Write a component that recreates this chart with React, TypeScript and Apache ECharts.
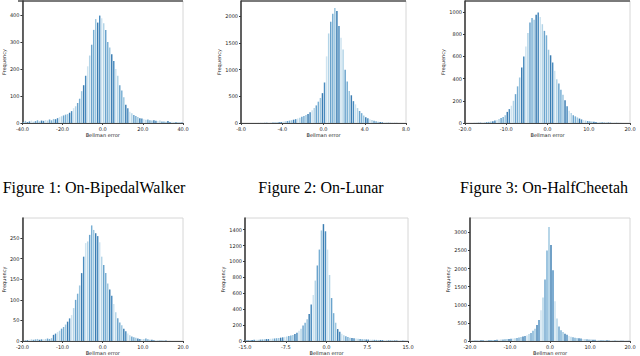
import React, { useEffect, useRef } from "react";
import * as echarts from "echarts";

// ---- data ----
const captions = ["Figure 1: On-BipedalWalker", "Figure 2: On-Lunar", "Figure 3: On-HalfCheetah"];
const xAxisTitle = "Bellman error";
const yAxisTitle = "Frequency";

// histogram bin start and bin width per panel
const binStarts = [-40, -8, -20, -20, -15, -20];
const binWidths = [1, 0.2, 0.5, 0.5, 0.375, 0.5];

// x axis ranges / tick intervals
const xMins = [-40, -8, -20, -20, -15, -20];
const xMaxs = [40, 8, 20, 20, 15, 20];
const xIntervals = [20, 4, 10, 10, 7.5, 10];

// y axis tick intervals
const yIntervals = [100, 500, 200, 50, 200, 500];

const bipedalCounts = [
  4, 8, 3, 6, 9, 5, 7, 10, 6, 9,
  8, 11, 9, 13, 10, 15, 14, 18, 22, 25,
  28, 31, 33, 38, 44, 55, 62, 74, 90, 118,
  140, 175, 210, 250, 290, 345, 385, 372, 398, 388,
  370, 345, 300, 280, 255, 230, 200, 175, 140, 120,
  95, 68, 55, 42, 36, 30, 26, 22, 18, 17,
  14, 12, 13, 10, 9, 10, 8, 7, 9, 6,
  6, 5, 7, 4, 5, 3, 4, 2, 3, 2,
];

const lunarCounts = [
  0, 0, 0, 0, 0, 0, 1, 0, 1, 2,
  2, 3, 4, 5, 6, 8, 10, 13, 16, 20,
  26, 32, 38, 45, 52, 62, 72, 85, 98, 115,
  130, 150, 170, 200, 240, 280, 330, 400, 470, 560,
  760, 1250, 1680, 1900, 2050, 2160, 2100, 1820, 1600, 1380,
  1000, 780, 600, 520, 410, 350, 280, 225, 185, 140,
  110, 90, 70, 55, 42, 32, 25, 18, 14, 10,
  8, 6, 4, 3, 2, 2, 1, 1, 0, 0,
];

const cheetahCounts = [
  0, 0, 0, 1, 1, 2, 2, 3, 4, 6,
  8, 10, 14, 16, 22, 28, 35, 45, 55, 70,
  100, 125, 155, 200, 260, 330, 410, 500, 600, 690,
  810, 905, 945, 930, 975, 995, 955, 890, 830, 790,
  660, 610, 545, 470, 395, 355, 300, 255, 205, 150,
  110, 90, 70, 60, 50, 40, 32, 26, 22, 18,
  16, 14, 12, 10, 9, 8, 6, 5, 4, 4,
  3, 3, 2, 2, 1, 1, 1, 0, 0, 0,
];

const panel4Counts = [
  0, 1, 2, 3, 4, 3, 4, 5, 3, 4,
  4, 5, 6, 5, 7, 15, 18, 22, 25, 30,
  34, 40, 47, 55, 63, 80, 100, 115, 135, 165,
  205, 238, 242, 258, 281, 270, 262, 255, 240, 205,
  185, 165, 140, 125, 110, 90, 70, 55, 45, 38,
  30, 24, 18, 14, 11, 9, 8, 6, 5, 5,
  5, 6, 4, 3, 3, 2, 2, 2, 1, 1,
  1, 1, 0, 1, 0, 0, 0, 0, 0, 0,
];

const panel5Counts = [
  10, 12, 14, 13, 15, 17, 16, 18, 20, 22,
  24, 25, 28, 30, 32, 35, 38, 42, 46, 52,
  56, 62, 68, 75, 88, 105, 130, 155, 195, 230,
  275, 340, 460, 580, 760, 950, 1150, 1390, 1470, 1380,
  1150, 830, 540, 350, 230, 150, 115, 90, 72, 60,
  50, 42, 38, 34, 30, 27, 25, 23, 21, 20,
  18, 17, 16, 15, 14, 13, 12, 11, 10, 10,
  9, 8, 8, 7, 6, 6, 5, 5, 4, 4,
];

const panel6Counts = [
  10, 12, 14, 15, 16, 18, 20, 22, 24, 26,
  28, 30, 31, 33, 36, 38, 42, 46, 52, 58,
  62, 70, 78, 86, 95, 108, 125, 140, 160, 190,
  220, 280, 340, 440, 580, 850, 1200, 1700, 2500, 3150,
  2650, 1950, 1100, 620, 400, 300, 250, 200, 170, 140,
  120, 105, 92, 83, 75, 66, 58, 52, 46, 42,
  38, 35, 32, 29, 26, 24, 22, 20, 18, 16,
  14, 12, 11, 10, 9, 8, 7, 6, 5, 4,
];

const allCounts = [bipedalCounts, lunarCounts, cheetahCounts, panel4Counts, panel5Counts, panel6Counts];

// ---- layout / style ----
const grids = [
  { left: 18, top: 1, width: 165, height: 122 },
  { left: 241, top: 1, width: 165, height: 122 },
  { left: 465, top: 1, width: 165, height: 122 },
  { left: 18, top: 218, width: 165, height: 123 },
  { left: 245, top: 218, width: 163, height: 123 },
  { left: 470, top: 218, width: 160, height: 123 },
];
const yMaxs = [452, 2289, 1099, 299, 1547, 3395];
const yNameGaps = [12.5, 16.5, 16, 11.5, 17, 17];
const barColors = ["#78afd4", "#b3d4e7", "#4a8cbf", "#9cc6df", "#6aa3cc", "#cfe4f0", "#3b7db2"];
const captionX = [94, 321, 544];

export default function App() {
  const ref = useRef<HTMLDivElement>(null);

  useEffect(() => {
    if (!ref.current) return;
    const chart = echarts.init(ref.current, undefined, { renderer: "svg" });

    const grid = grids.map((g) => ({
      ...g,
      show: true,
      borderColor: "#d6d6d6",
      borderWidth: 1,
      backgroundColor: "transparent",
    }));

    const xAxis = grids.map((_, k) => ({
      type: "value",
      gridIndex: k,
      min: xMins[k],
      max: xMaxs[k],
      interval: xIntervals[k],
      name: xAxisTitle,
      nameLocation: "middle",
      nameGap: k < 3 ? 9.5 : 9,
      nameTextStyle: { fontSize: 5, color: "#222", fontFamily: "DejaVu Sans" },
      axisLine: { show: true, onZero: false, lineStyle: { color: "#444", width: 1 } },
      axisTick: { show: true, length: 2, lineStyle: { color: "#444" } },
      axisLabel: {
        fontSize: 5,
        color: "#222",
        margin: 3,
        fontFamily: "DejaVu Sans",
        formatter: (v: number) => v.toFixed(1),
      },
      splitLine: { show: false },
    }));

    const yAxis = grids.map((_, k) => ({
      type: "value",
      gridIndex: k,
      min: 0,
      max: yMaxs[k],
      interval: yIntervals[k],
      name: yAxisTitle,
      nameLocation: "middle",
      nameRotate: 90,
      nameGap: yNameGaps[k],
      nameTextStyle: { fontSize: 5, color: "#222", fontFamily: "DejaVu Sans" },
      axisLine: { show: true, onZero: false, lineStyle: { color: "#333", width: 1.5 } },
      axisTick: { show: true, length: 2, lineStyle: { color: "#333" } },
      axisLabel: {
        fontSize: 5,
        color: "#222",
        margin: 3,
        showMaxLabel: false,
        fontFamily: "DejaVu Sans",
        formatter: (v: number) => String(Math.round(v)),
      },
      splitLine: { show: false },
    }));

    const series = allCounts.map((counts, k) => ({
      type: "bar",
      xAxisIndex: k,
      yAxisIndex: k,
      barWidth: "72%",
      data: counts.map((c, i) => [binStarts[k] + binWidths[k] * (i + 0.5), c]),
      itemStyle: {
        color: (p: any) => barColors[(p.dataIndex * 3 + k) % barColors.length],
      },
    }));

    const graphic: any[] = captions.map((t, i) => ({
      type: "text",
      x: captionX[i],
      y: 187,
      style: {
        text: t,
        fontSize: 16,
        fontFamily: "Liberation Serif",
        fill: "#000",
        align: "center",
        verticalAlign: "middle",
      },
    }));
    for (let k = 0; k < 3; k++) {
      graphic.push({
        type: "line",
        shape: { x1: grids[k].left, y1: 1, x2: grids[k].left + grids[k].width, y2: 1 },
        style: { stroke: "#7a7a7a", lineWidth: 2 },
      });
    }

    chart.setOption({
      animation: false,
      backgroundColor: "#fff",
      grid,
      xAxis,
      yAxis,
      series,
      graphic,
    } as any);

    return () => chart.dispose();
  }, []);

  return (
    <div
      ref={ref}
      style={{ position: "fixed", left: 0, top: 0, width: 640, height: 356, background: "#fff" }}
    />
  );
}
